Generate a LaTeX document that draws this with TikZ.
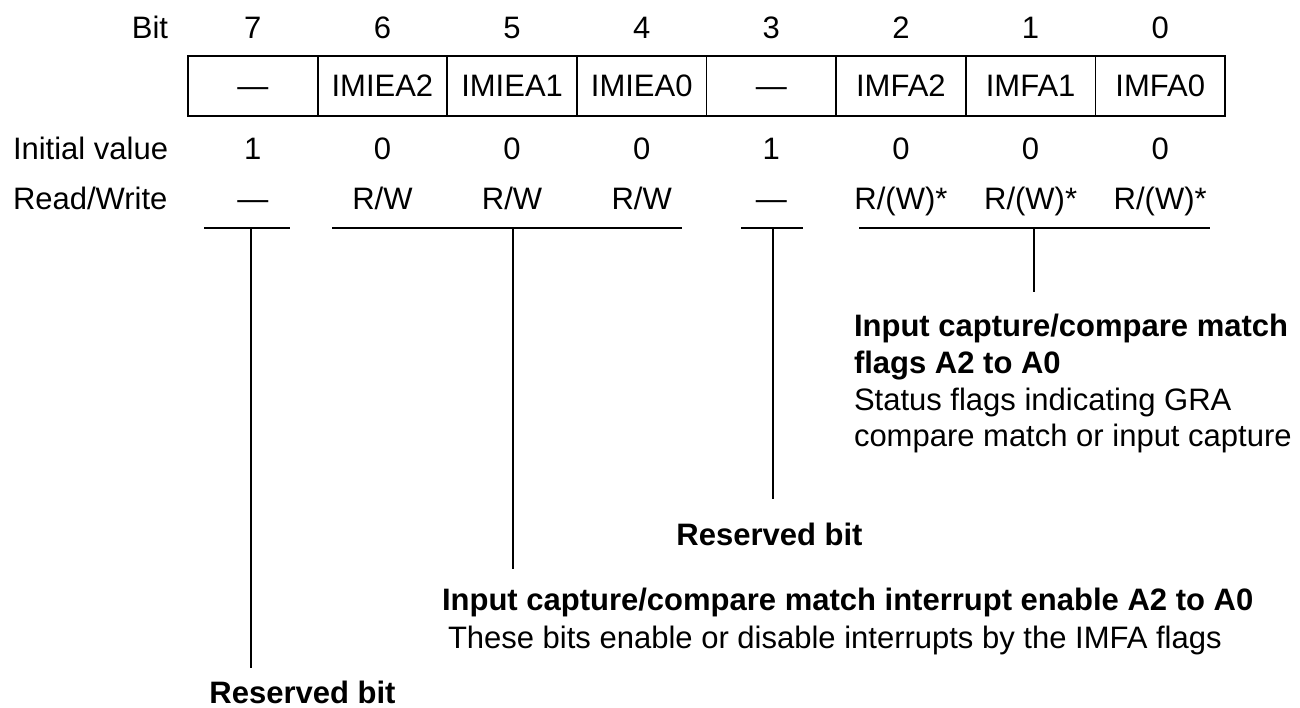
\documentclass[tikz,border=0pt]{standalone}
\usepackage{fontspec}
\setmainfont{Liberation Sans}
\begin{document}
\begin{tikzpicture}[x=1pt,y=-1pt,
  every node/.style={font=\fontsize{31}{37}\selectfont, inner sep=0pt, outer sep=0pt},
  lbl/.style={anchor=base},
  cell/.style={draw, line width=1.8pt, minimum width=129.625pt, minimum height=60pt,
    text height=22pt, text depth=0pt, anchor=center},
  rule/.style={line width=1.8pt},
  lead/.style={line width=1.5pt},
  head/.style={anchor=base west, font=\fontsize{31}{37}\selectfont\bfseries},
  body/.style={anchor=base west}]
\useasboundingbox (0,0) rectangle (1300,708);

% header row
\node[anchor=base east] (bitlbl) at (168,39) {Bit};
\foreach \i/\x in {7/252.8,6/382.4,5/512.1,4/641.7,3/771.3,2/900.9,1/1030.6,0/1160.2}
  \node[lbl] (b\i) at (\x,39) {\i};

% register cells
\node[cell] (r7) at (252.8,86) {—};
\node[cell] (r6) at (382.4,86) {IMIEA2};
\node[cell] (r5) at (512.1,86) {IMIEA1};
\node[cell] (r4) at (641.7,86) {IMIEA0};
\node[cell] (r3) at (771.3,86) {—};
\node[cell] (r2) at (900.9,86) {IMFA2};
\node[cell] (r1) at (1030.6,86) {IMFA1};
\node[cell] (r0) at (1160.2,86) {IMFA0};

% initial values
\node[anchor=base west] (ivlbl) at (13,160) {Initial value};
\foreach \i/\x/\v in {7/252.8/1,6/382.4/0,5/512.1/0,4/641.7/0,3/771.3/1,2/900.9/0,1/1030.6/0,0/1160.2/0}
  \node[lbl] (iv\i) at (\x,160) {\v};

% read/write
\node[anchor=base west] (rwlbl) at (13,210) {Read/Write};
\node[lbl] (rw7) at (252.8,210) {—};
\node[lbl] (rw6) at (382.4,210) {R/W};
\node[lbl] (rw5) at (512.1,210) {R/W};
\node[lbl] (rw4) at (641.7,210) {R/W};
\node[lbl] (rw3) at (771.3,210) {—};
\node[lbl] (rw2) at (900.9,210) {R/(W)*};
\node[lbl] (rw1) at (1030.6,210) {R/(W)*};
\node[lbl] (rw0) at (1160.2,210) {R/(W)*};

% underlines
\coordinate (u7a) at (204,228);  \coordinate (u7b) at (290,228);
\coordinate (u64a) at (332,228); \coordinate (u64b) at (682,228);
\coordinate (u3a) at (741,228);  \coordinate (u3b) at (803,228);
\coordinate (u20a) at (859,228); \coordinate (u20b) at (1210,228);
\draw[rule] (u7a) -- (u7b);
\draw[rule] (u64a) -- (u64b);
\draw[rule] (u3a) -- (u3b);
\draw[rule] (u20a) -- (u20b);

% leader lines
\coordinate (v7) at (251,228);   \coordinate (v7e) at (251,668);
\coordinate (v64) at (513,228);  \coordinate (v64e) at (513,569);
\coordinate (v3) at (773,228);   \coordinate (v3e) at (773,499);
\coordinate (v20) at (1034,228); \coordinate (v20e) at (1034,292);
\draw[lead] (v7) -- (v7e);
\draw[lead] (v64) -- (v64e);
\draw[lead] (v3) -- (v3e);
\draw[lead] (v20) -- (v20e);

% descriptions
\node[head] (fl1) at (854,336) {Input capture/compare match};
\node[head] (fl2) at (854,373) {flags A2 to A0};
\node[body] (fl3) at (854,410) {Status flags indicating GRA};
\node[body] (fl4) at (854,446) {compare match or input capture};

\node[head, anchor=base] (rsv3) at (769.5,545) {Reserved bit};

\node[head] (ie1) at (442,610) {Input capture/compare match interrupt enable A2 to A0};
\node[body] (ie2) at (448,648) {These bits enable or disable interrupts by the IMFA flags};

\node[head, anchor=base] (rsv7) at (302.5,703) {Reserved bit};
\end{tikzpicture}
\end{document}
